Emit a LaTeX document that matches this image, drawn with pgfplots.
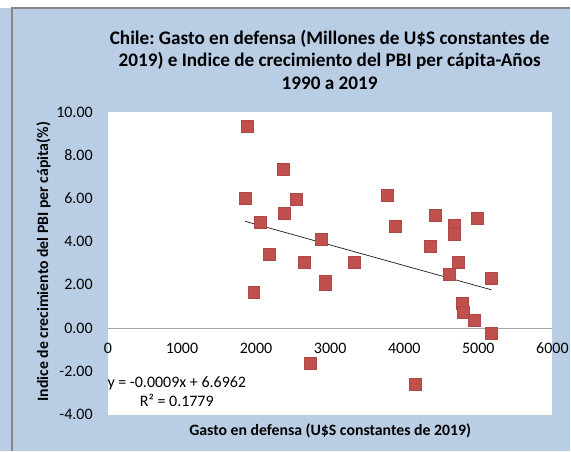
\documentclass[border=0pt]{standalone}
\usepackage{pgfplots}
\pgfplotsset{compat=1.18}
\usepackage{fontspec}
\setmainfont{Carlito}
\frenchspacing
\definecolor{chartbg}{RGB}{185,205,229}
\definecolor{markred}{RGB}{192,80,77}
\definecolor{framegray}{RGB}{134,134,134}

\begin{document}
\begin{tikzpicture}
\fill[white] (0,0) rectangle (571bp,451bp);
\fill[chartbg] (0,0) rectangle (571bp,443bp);
\draw[framegray, line width=1.2bp] (12bp,0) -- (12bp,443bp) -- (571bp,443bp);

\node[align=center, font=\fontsize{19.2bp}{23bp}\selectfont\bfseries] at (330bp,391bp)
  {Chile: Gasto en defensa (Millones de U\$S constantes de\\2019) e Indice de crecimiento del PBI per cápita-Años\\1990 a 2019};

\begin{axis}[
  at={(108bp,36bp)}, anchor=south west,
  scale only axis, width=445bp, height=303bp,
  xmin=0, xmax=6000, ymin=-4, ymax=10,
  axis x line=middle, axis y line=left,
  x axis line style={-, draw=gray!70, line width=0.8bp},
  y axis line style={draw=none},
  hide obscured x ticks=false, hide obscured y ticks=false,
  axis background/.style={fill=white},
  xtick={0,1000,...,6000}, ytick={-4,-2,...,10},
  major tick length=0pt,
  /pgf/number format/assume math mode=true,
  scaled x ticks=false,
  xticklabel style={/pgf/number format/fixed, /pgf/number format/1000 sep={}},
  yticklabel style={/pgf/number format/fixed, /pgf/number format/fixed zerofill, /pgf/number format/precision=2},
  tick label style={font=\fontsize{16bp}{19bp}\selectfont},
  x tick label style={anchor=center, inner sep=0pt, yshift=-20bp},
  y tick label style={anchor=east, inner sep=0pt, xshift=-15bp},
  clip=false,
]
\addplot[only marks, mark=square*, mark size=6bp,
  mark options={fill=markred, draw=markred!90!black, line width=0.4bp}]
  coordinates {
  (1874,9.35) (1851,6.02) (2364,7.33) (2386,5.31) (2058,4.90)
  (2171,3.40) (1968,1.67) (2544,5.98) (2643,3.03) (2881,4.10)
  (2939,2.18) (2930,2.03) (2733,-1.61) (3326,3.03) (3766,6.13)
  (3878,4.69) (4148,-2.60) (4346,3.79) (4418,5.22) (4674,4.75)
  (4674,4.33) (4611,2.49) (4728,3.06) (4983,5.08) (5168,2.32)
  (4786,1.14) (4800,0.75) (4944,0.35) (5177,-0.23)
  };
\addplot[black!85, line width=0.75bp] coordinates {(1851,4.94) (5177,1.77)};
\end{axis}

\node[align=center, font=\fontsize{16bp}{19bp}\selectfont] at (177bp,58.5bp)
  {y = -0.0009x + 6.6962\\R² = 0.1779};
\node[rotate=90, font=\fontsize{15.8bp}{18bp}\selectfont\bfseries] at (43.5bp,189bp)
  {Indice de crecimiento del PBI per cápita(\%)};
\node[font=\fontsize{15.8bp}{18bp}\selectfont\bfseries] at (330.5bp,20bp)
  {Gasto en defensa (U\$S constantes de 2019)};
\end{tikzpicture}
\end{document}
